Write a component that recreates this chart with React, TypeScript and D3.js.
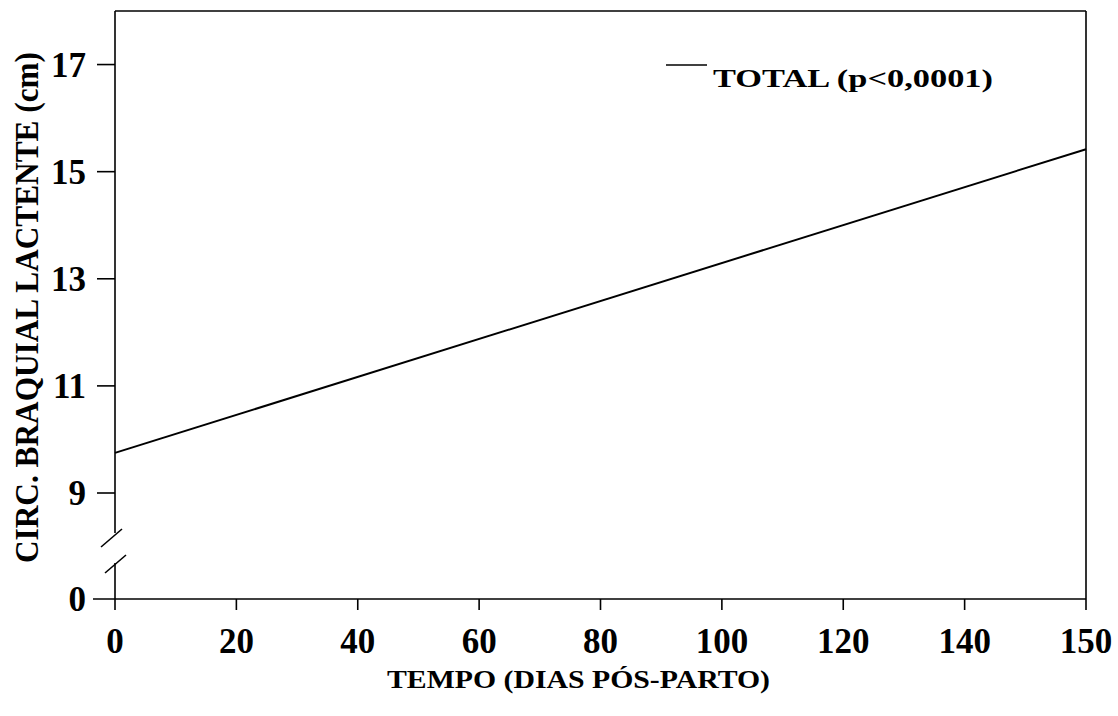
import React from "react";
import * as d3 from "d3";

// x labels are evenly spaced in the original figure (150 sits one step after 140)
const xTicks = [0, 20, 40, 60, 80, 100, 120, 140, 150];
const yTicks = [0, 9, 11, 13, 15, 17];
const days = [0, 150];
const total = [9.75, 15.42];
const legendLabel = "TOTAL (p<0,0001)";
const xTitle = "TEMPO (DIAS PÓS-PARTO)";
const yTitle = "CIRC. BRAQUIAL LACTENTE (cm)";

const W = 1118;
const H = 716;
const m = { l: 115, r: 1086, t: 11, b: 599 };
const FONT = "'Liberation Serif', 'Times New Roman', serif";

export default function App() {
  const x = d3
    .scaleLinear()
    .domain(xTicks)
    .range(xTicks.map((_, i) => m.l + ((m.r - m.l) * i) / (xTicks.length - 1)));
  // broken axis: 0..9 squeezed, 9..18 regular
  const y = d3.scaleLinear().domain([0, 9, 18]).range([m.b, 493, m.t]);

  const line = d3
    .line<number>()
    .x((_, i) => x(days[i]))
    .y((d) => y(d));

  return (
    <svg
      width={W}
      height={H}
      style={{ position: "absolute", left: 0, top: 0, background: "#fff" }}
      fontFamily={FONT}
      fontWeight="bold"
    >
      <g stroke="#000" strokeWidth={1.6} fill="none">
        {/* frame top / right */}
        <line x1={m.l} x2={m.r} y1={m.t} y2={m.t} />
        <line x1={m.r} x2={m.r} y1={m.t} y2={m.b} />
        {/* left axis with a break */}
        <line x1={m.l} x2={m.l} y1={m.t} y2={533} />
        <line x1={m.l} x2={m.l} y1={563} y2={m.b} />
        <line x1={101} y1={547} x2={122} y2={529} />
        <line x1={105} y1={573} x2={126} y2={555} />
        {/* bottom axis */}
        <line x1={93} x2={m.r} y1={m.b} y2={m.b} />
        {yTicks
          .filter((t) => t !== 0)
          .map((t) => (
            <line key={t} x1={97} x2={m.l} y1={y(t)} y2={y(t)} />
          ))}
        {xTicks.map((t) => (
          <line key={t} x1={x(t)} x2={x(t)} y1={m.b} y2={m.b + 11} />
        ))}
        <path d={line(total) ?? ""} strokeWidth={2} />
        {/* legend swatch */}
        <line x1={666} x2={707} y1={65} y2={65} />
      </g>

      <g fontSize={35} fill="#000">
        {yTicks.map((t) => (
          <text key={t} x={86} y={y(t)} dy="0.35em" textAnchor="end">
            {t}
          </text>
        ))}
        {xTicks.map((t) => (
          <text key={t} x={x(t)} y={653} textAnchor="middle">
            {t}
          </text>
        ))}
      </g>

      <text
        x={713}
        y={87}
        fontSize={25}
        textLength={280}
        lengthAdjust="spacingAndGlyphs"
      >
        {legendLabel}
      </text>
      <text
        x={387}
        y={688}
        fontSize={25}
        textLength={383}
        lengthAdjust="spacingAndGlyphs"
      >
        {xTitle}
      </text>
      <text
        transform="translate(38,563) rotate(-90)"
        fontSize={33}
        textLength={511}
        lengthAdjust="spacingAndGlyphs"
      >
        {yTitle}
      </text>
    </svg>
  );
}
